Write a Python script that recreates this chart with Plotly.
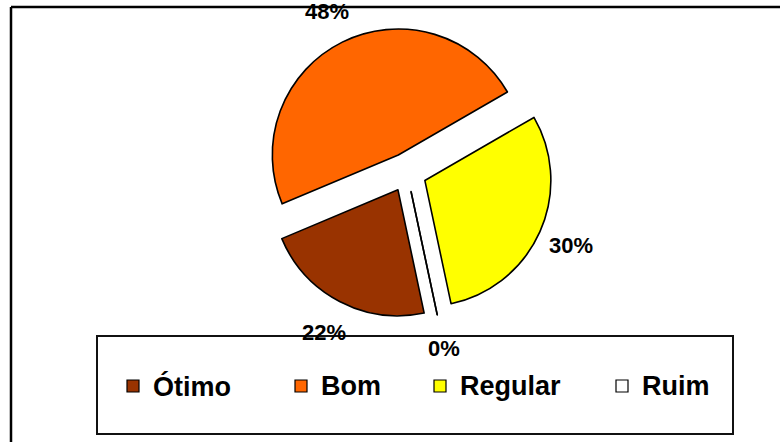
import math
import plotly.graph_objects as go

# Survey answers (percent)
labels = ["Ótimo", "Bom", "Regular", "Ruim"]
values = [22, 48, 30, 0]
colors = ["#993300", "#FF6600", "#FFFF00", "#FFFFFF"]

W, H = 780, 442

# Pie geometry in pixels
CX, CY = 407, 172.5      # pie centre
RADIUS = 126             # slice radius
PULL = 0.155             # explode fraction of radius
START_DEG = 168          # first slice starts here (clockwise from 12 o'clock)
LABEL_R = 180            # distance of percentage labels from centre

FONT = "Liberation Sans, Arial, sans-serif"


def px(x):
    return x / W


def py(y):
    return 1 - y / H


half = RADIUS * (1 + PULL)
domain_x = [px(CX - half), px(CX + half)]
domain_y = [py(CY + half), py(CY - half)]

fig = go.Figure()
fig.add_trace(go.Pie(
    labels=labels,
    values=values,
    sort=False,
    direction="clockwise",
    rotation=START_DEG,
    pull=[PULL] * len(values),
    marker=dict(colors=colors, line=dict(color="#000000", width=1.6)),
    textinfo="none",
    hoverinfo="label+percent",
    showlegend=False,
    domain=dict(x=domain_x, y=domain_y),
))

annotations = []
shapes = []

# Percentage labels placed along each slice's mid angle
total = sum(values)
angle = START_DEG
for lab, v in zip(labels, values):
    span = 360 * v / total
    mid = math.radians(angle + span / 2)
    lx = CX + LABEL_R * math.sin(mid)
    ly = CY - LABEL_R * math.cos(mid)
    annotations.append(dict(
        x=px(lx), y=py(ly), xref="paper", yref="paper",
        text=f"{v}%", showarrow=False,
        font=dict(family=FONT, size=22, color="#000000", weight="bold"),
        xanchor="center", yanchor="middle",
    ))
    # a zero-value slice still shows as its separating edge
    if v == 0:
        a = math.radians(angle)
        off = PULL * RADIUS
        sx = CX + off * math.sin(a)
        sy = CY - off * math.cos(a)
        ex = sx + RADIUS * math.sin(a)
        ey = sy - RADIUS * math.cos(a)
        shapes.append(dict(
            type="line", xref="paper", yref="paper",
            x0=px(sx), y0=py(sy), x1=px(ex), y1=py(ey),
            line=dict(color="#000000", width=1.6),
        ))
    angle += span

# Legend box
LEG_BOX = (97, 336, 733, 434)
shapes.append(dict(
    type="rect", xref="paper", yref="paper",
    x0=px(LEG_BOX[0]), y0=py(LEG_BOX[3]), x1=px(LEG_BOX[2]), y1=py(LEG_BOX[1]),
    line=dict(color="#111111", width=2), fillcolor="rgba(0,0,0,0)", layer="above",
))

LEG_X = [127, 295, 434, 616]   # left edge of each legend swatch
LEG_Y = 386                   # vertical centre of the legend row
SW = 12                        # swatch size
for lab, col, x0 in zip(labels, colors, LEG_X):
    shapes.append(dict(
        type="rect", xref="paper", yref="paper",
        x0=px(x0), y0=py(LEG_Y + SW / 2), x1=px(x0 + SW), y1=py(LEG_Y - SW / 2),
        line=dict(color="#000000", width=1.2), fillcolor=col, layer="above",
    ))
    annotations.append(dict(
        x=px(x0 + SW + 12), y=py(LEG_Y), xref="paper", yref="paper",
        text=lab, showarrow=False, xanchor="left", yanchor="middle",
        font=dict(family=FONT, size=27, color="#000000", weight="bold"),
    ))

# Chart frame (top and left edges)
shapes.append(dict(type="line", xref="paper", yref="paper",
                   x0=px(11), y0=py(7), x1=1, y1=py(7),
                   line=dict(color="#000000", width=2.5)))
shapes.append(dict(type="line", xref="paper", yref="paper",
                   x0=px(11), y0=py(7), x1=px(11), y1=0,
                   line=dict(color="#000000", width=2.5)))

fig.update_layout(
    width=W, height=H,
    margin=dict(l=0, r=0, t=0, b=0),
    paper_bgcolor="#FFFFFF",
    plot_bgcolor="#FFFFFF",
    showlegend=False,
    annotations=annotations,
    shapes=shapes,
)

fig.write_html("out.html")
